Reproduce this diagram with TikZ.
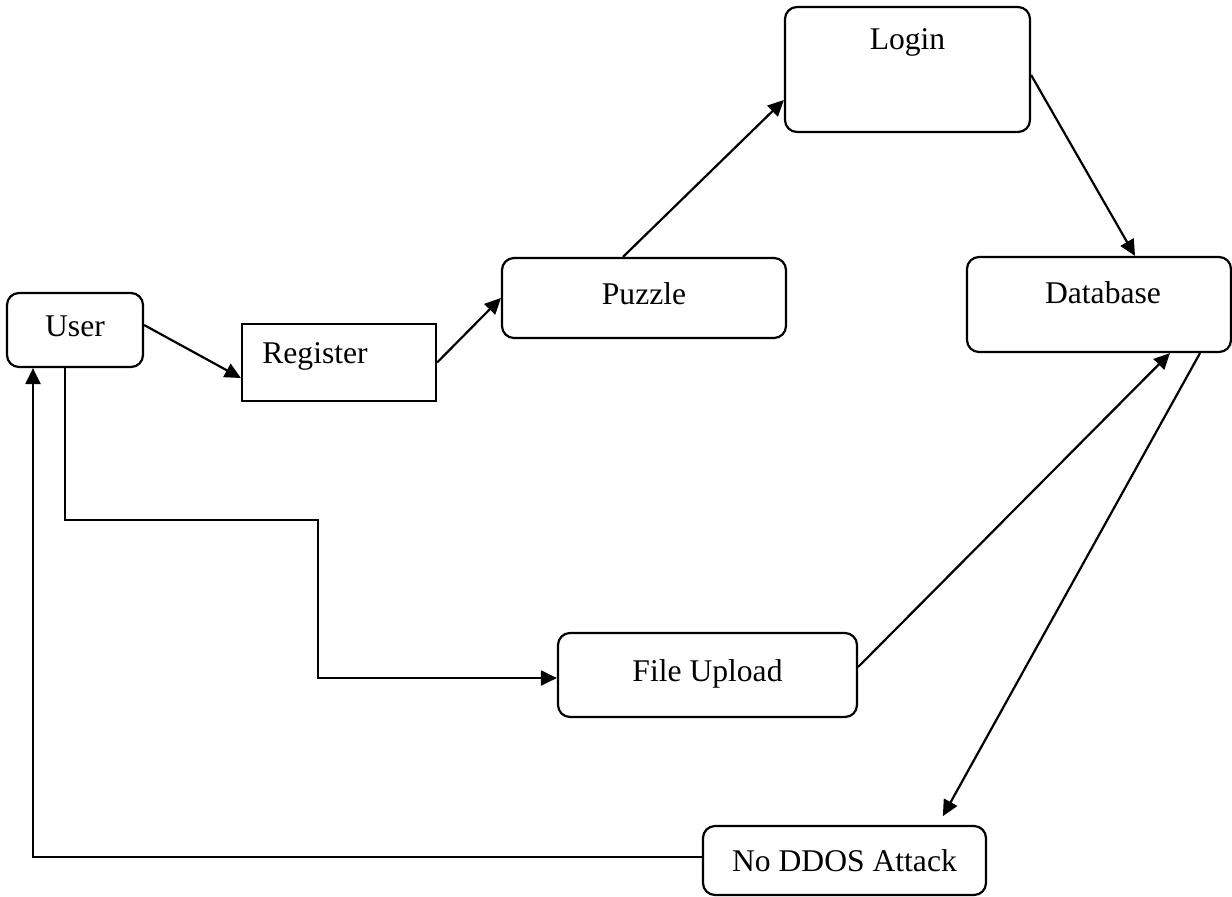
\documentclass[tikz,border=0pt]{standalone}
\usepackage{fontspec}
\setmainfont{Liberation Serif}
\usetikzlibrary{arrows.meta}

\begin{document}
\begin{tikzpicture}[x=0.5pt, y=-0.5pt, ->, >={Triangle[length=8pt,width=7.5pt]}, line width=1.1pt, font=\fontsize{15.8pt}{19pt}\selectfont]
            \tikzstyle{box}=[draw, rounded corners=6pt, inner sep=0pt]
            \tikzstyle{plainbox}=[draw, inner sep=0pt]
            \tikzstyle{hightext}=[text height=11pt, text depth=5pt]
            \useasboundingbox (0,0) rectangle (1232,896);

            \node[box, hightext, minimum width=68pt, minimum height=37pt] (user) at (75,330) {User};
            \node[plainbox, minimum width=97pt, minimum height=38.5pt, label={[xshift=-12pt,yshift=3pt]center:Register}] (register) at (339,362.5) {};
            \node[box, hightext, minimum width=142pt, minimum height=40pt] (puzzle) at (644,298) {Puzzle};
            \node[box, minimum width=122.5pt, minimum height=62.5pt, label={[yshift=13.75pt]center:Login}] (login) at (907.5,69.5) {};
            \node[box, minimum width=132pt, minimum height=47.5pt, label={[xshift=2pt,yshift=5.75pt]center:Database}] (database) at (1099,304.5) {};
            \node[box, hightext, minimum width=149.5pt, minimum height=42pt] (fileupload) at (707.5,675) {File Upload};
            \node[box, minimum width=141.5pt, minimum height=34.5pt] (noddos) at (844.5,860.5) {No DDOS Attack};
            \coordinate (turn) at (318,520);

            \draw ([yshift=2.5pt]user.east) -- ([yshift=-7.75pt]register.west);
            \draw (register.east) -- (puzzle.west);
            \draw ([xshift=-10.5pt]puzzle.north) -- ([yshift=-15.25pt]login.west);
            \draw ([yshift=-2.75pt]login.east) -- ([xshift=18pt]database.north);
            \draw ([yshift=4pt]fileupload.east) -- ([xshift=35.5pt]database.south);
            \draw[shorten >=5pt] ([xshift=50.5pt]database.south) -- ([xshift=46.75pt]noddos.north);
            \draw ([xshift=-5pt]user.south) |- (turn) |- ([yshift=-1.5pt]fileupload.west);
            \draw ([yshift=1.75pt]noddos.west) -| ([xshift=-21pt]user.south);
          \end{tikzpicture}
\end{document}
